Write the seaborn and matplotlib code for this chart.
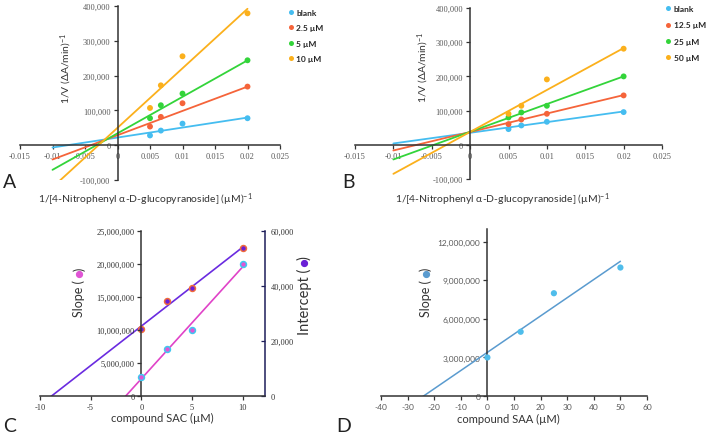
import numpy as np
import pandas as pd
import matplotlib
matplotlib.use("Agg")
import matplotlib.pyplot as plt
from matplotlib.lines import Line2D
from matplotlib.ticker import FuncFormatter
import seaborn as sns

sns.set_theme(style="white")
plt.rcParams["font.family"] = ["Lato", "DejaVu Sans"]
plt.rcParams["mathtext.default"] = "regular"

# ---------------- data ----------------
inv_substrate = [0.005, 0.00667, 0.01, 0.02]

a_series = ["blank", "2.5 µM", "5 µM", "10 µM"]
a_blank = [28000, 42000, 62000, 77500]
a_sac_2p5 = [53600, 81300, 120600, 168400]
a_sac_5 = [77500, 114800, 148300, 244000]
a_sac_10 = [107000, 172000, 255500, 379000]
a_fit_slope = [2.87e6, 6.98e6, 10.49e6, 17.1e6]
a_fit_intercept = [22000, 28700, 34100, 50000]

b_series = ["blank", "12.5 µM", "25 µM", "50 µM"]
b_blank = [45900, 56600, 67300, 95600]
b_saa_12p5 = [60500, 74100, 90700, 144400]
b_saa_25 = [80000, 94600, 114100, 200000]
b_saa_50 = [90700, 114100, 191200, 281000]
b_fit_slope = [3.12e6, 5.4e6, 8.1e6, 12.26e6]
b_fit_intercept = [35100, 37400, 38100, 37700]

fit_x_range = [-0.01, 0.02]

c_conc = [0, 2.5, 5, 10]
c_slope = [2.95e6, 7.1e6, 10.04e6, 20.03e6]
c_intercept = [24300, 34400, 39300, 53900]

d_conc = [0, 12.5, 25, 50]
d_slope = [3.0e6, 5.0e6, 8.0e6, 10.0e6]

series_colors = ["#45BDF0", "#F5643A", "#33D43A", "#FBB01C"]

W, H = 709, 435
fig = plt.figure(figsize=(W / 100, H / 100), dpi=100)


def fax(l, r, t, b):
    return fig.add_axes([l / W, 1 - b / H, (r - l) / W, (b - t) / H])


def fpos(x, y):
    return x / W, 1 - y / H


SERIF = "Liberation Serif"
TICK_GRAY = "#595959"
SPINE = "#333333"
comma = FuncFormatter(lambda v, p: f"{v:,.0f}")
gfmt = FuncFormatter(lambda v, p: "0" if abs(v) < 1e-12 else f"{v:g}")


def lineweaver(ax, series, values, slopes, intercepts):
    pts = pd.DataFrame({
        "x": np.tile(inv_substrate, len(series)),
        "y": np.concatenate(values),
        "s": np.repeat(series, len(inv_substrate)),
    })
    fx = np.array(fit_x_range)
    lines = pd.DataFrame({
        "x": np.tile(fx, len(series)),
        "y": np.concatenate([m * fx + c for m, c in zip(slopes, intercepts)]),
        "s": np.repeat(series, len(fx)),
    })
    pal = dict(zip(series, series_colors))
    sns.lineplot(data=lines, x="x", y="y", hue="s", palette=pal, ax=ax,
                 linewidth=1.3, legend=False, zorder=2)
    sns.scatterplot(data=pts, x="x", y="y", hue="s", palette=pal, ax=ax,
                    s=18, edgecolor="none", zorder=3, legend=True)
    ax.set_xlim(-0.015, 0.025)
    ax.set_ylim(-100000, 400000)
    ax.set_xticks([-0.015, -0.01, -0.005, 0, 0.005, 0.01, 0.015, 0.02, 0.025])
    ax.set_yticks([-100000, 0, 100000, 200000, 300000, 400000])
    ax.xaxis.set_major_formatter(gfmt)
    ax.yaxis.set_major_formatter(comma)
    ax.spines["left"].set_position(("data", 0))
    ax.spines["bottom"].set_position(("data", 0))
    for s in ["top", "right"]:
        ax.spines[s].set_visible(False)
    for s in ["left", "bottom"]:
        ax.spines[s].set_color(SPINE)
        ax.spines[s].set_linewidth(1.1)
    ax.tick_params(left=True, bottom=True, direction="out", length=3,
                   width=0.9, color=SPINE, labelsize=6, labelcolor=TICK_GRAY,
                   pad=2)
    for t in ax.get_xticklabels() + ax.get_yticklabels():
        t.set_fontfamily(SERIF)
    ax.set_xlabel("")
    ax.set_ylabel("")
    ax.patch.set_alpha(0)


def side_legend(ax, x, y, spacing):
    h, l = ax.get_legend_handles_labels()
    ax.legend(h, l, loc="upper left", bbox_to_anchor=fpos(x, y),
              bbox_transform=fig.transFigure, frameon=False,
              prop={"weight": "bold", "size": 6}, handletextpad=0.1,
              labelspacing=spacing, borderpad=0, handlelength=1.2,
              markerscale=0.85, borderaxespad=0)


# ---- Panel A ----
axA = fax(20, 280, 7, 181)
lineweaver(axA, a_series, [a_blank, a_sac_2p5, a_sac_5, a_sac_10],
           a_fit_slope, a_fit_intercept)
side_legend(axA, 285.5, 9.5, 1.02)
fig.text(*fpos(66, 68), r"1/V (ΔA/min)$^{-1}$", rotation=90,
         ha="center", va="center", fontsize=7.5, color="#333333")
fig.text(*fpos(145, 200), r"1/[4-Nitrophenyl α-D-glucopyranoside] (µM)$^{-1}$",
         ha="center", va="center", fontsize=7.5, color="#333333")

# ---- Panel B ----
axB = fax(355, 662, 9, 180)
lineweaver(axB, b_series, [b_blank, b_saa_12p5, b_saa_25, b_saa_50],
           b_fit_slope, b_fit_intercept)
side_legend(axB, 663, 6.3, 1.1)
fig.text(*fpos(423, 67), r"1/V (ΔA/min)$^{-1}$", rotation=90,
         ha="center", va="center", fontsize=7.5, color="#333333")
fig.text(*fpos(502, 200), r"1/[4-Nitrophenyl α-D-glucopyranoside] (µM)$^{-1}$",
         ha="center", va="center", fontsize=7.5, color="#333333")

# ---- Panel C ----
axC = fax(40, 265, 232, 397)
axC2 = axC.twinx()
axC.set_zorder(axC2.get_zorder() + 1)
axC.patch.set_alpha(0)
fx = np.array([-10, 10])
m1, c1 = np.polyfit(c_conc, c_slope, 1)
m2, c2 = np.polyfit(c_conc, c_intercept, 1)
sns.lineplot(x=fx, y=m2 * fx + c2, ax=axC2, color="#6A2BE0", linewidth=1.2)
sns.lineplot(x=fx, y=m1 * fx + c1, ax=axC, color="#E043C8", linewidth=1.2)
sns.scatterplot(x=c_conc, y=c_slope, ax=axC, s=18, color="#E055D5",
                edgecolor="#3FC8F0", linewidth=1.1, zorder=4)
sns.scatterplot(x=c_conc, y=c_intercept, ax=axC2, s=18, color="#6A1FD6",
                edgecolor="#F06A3C", linewidth=1.1, zorder=4)
axC.set_xlim(-10, 12.2)
axC.set_ylim(0, 25e6)
axC2.set_ylim(0, 60000)
axC.set_xticks([-10, -5, 0, 5, 10])
axC.set_yticks(np.arange(0, 25e6 + 1, 5e6))
axC2.set_yticks([0, 20000, 40000, 60000])
axC.yaxis.set_major_formatter(comma)
axC2.yaxis.set_major_formatter(comma)
axC.xaxis.set_major_formatter(FuncFormatter(lambda v, p: f"{v:g}"))
axC.spines["left"].set_position(("data", 0))
for s in ["top", "right"]:
    axC.spines[s].set_visible(False)
for s in ["top", "left", "bottom"]:
    axC2.spines[s].set_visible(False)
axC.spines["left"].set_color(SPINE)
axC.spines["bottom"].set_color(SPINE)
axC2.spines["right"].set_color("#1E1E5A")
for s in [axC.spines["left"], axC.spines["bottom"], axC2.spines["right"]]:
    s.set_linewidth(1.1)
axC.tick_params(left=True, bottom=True, direction="out", length=3, width=0.9,
                color=SPINE, labelsize=6, labelcolor="#333333", pad=2)
axC2.tick_params(right=True, direction="in", length=3, width=0.9,
                 color="#1E1E5A", labelsize=6, labelcolor="#333333", pad=4)
for t in axC.get_xticklabels() + axC.get_yticklabels() + axC2.get_yticklabels():
    t.set_fontfamily(SERIF)
for a in (axC, axC2):
    a.set_xlabel("")
    a.set_ylabel("")
fig.text(*fpos(162, 418), "compound SAC (µM)", ha="center", va="center",
         fontsize=8, color="#333333")

# ---- Panel D ----
axD = fax(381, 647, 230, 397)
dx = np.array([-40, 50])
md, cd = np.polyfit(d_conc, d_slope, 1)
sns.lineplot(x=dx, y=md * dx + cd, ax=axD, color="#5A9BCF", linewidth=1.1)
sns.scatterplot(x=d_conc, y=d_slope, ax=axD, s=20, color="#4FBDEB",
                edgecolor="none", zorder=4)
axD.set_xlim(-40, 60)
axD.set_ylim(0, 13e6)
axD.set_xticks(np.arange(-40, 61, 10))
axD.set_yticks(np.arange(0, 12e6 + 1, 3e6))
axD.yaxis.set_major_formatter(comma)
axD.xaxis.set_major_formatter(FuncFormatter(lambda v, p: f"{v:g}"))
axD.spines["left"].set_position(("data", 0))
for s in ["top", "right"]:
    axD.spines[s].set_visible(False)
for s in ["left", "bottom"]:
    axD.spines[s].set_color(SPINE)
    axD.spines[s].set_linewidth(1.1)
axD.tick_params(left=True, bottom=True, direction="out", length=3, width=0.9,
                color=SPINE, labelsize=6, labelcolor=TICK_GRAY, pad=2)
axD.set_xlabel("")
axD.set_ylabel("")
axD.patch.set_alpha(0)
fig.text(*fpos(508, 419), "compound SAA (µM)", ha="center", va="center",
         fontsize=8, color="#333333")

# ---- y labels with a coloured dot inside the parentheses ----
renderer = fig.canvas.get_renderer()


def dot_label(px, bottom_py, word, dot_color, fs):
    t1 = fig.text(px / W, 1 - bottom_py / H, word + " (", rotation=90,
                  ha="center", va="bottom", fontsize=fs, color="#333333")
    bb = t1.get_window_extent(renderer)
    dot_y = bb.y1 + 5.0
    fig.lines.append(Line2D([px / W], [dot_y / H], marker="o",
                            markersize=4.2, color=dot_color,
                            linestyle="none", transform=fig.transFigure))
    fig.text(px / W, (dot_y + 4.0) / H, ")", rotation=90, ha="center",
             va="bottom", fontsize=fs, color="#333333")


dot_label(79, 317, "Slope", "#E055D5", 9)
dot_label(304.3, 335, "Intercept", "#6A1FD6", 10.5)
dot_label(425.7, 316.7, "Slope", "#5A9BCF", 9)

# panel letters
for (px, py, s) in [(10, 183, "A"), (348, 183, "B"), (10, 427, "C"),
                    (344, 427, "D")]:
    fig.text(*fpos(px, py), s, ha="center", va="center", fontsize=14,
             color="#222222")

fig.savefig("out.png", dpi=100)
